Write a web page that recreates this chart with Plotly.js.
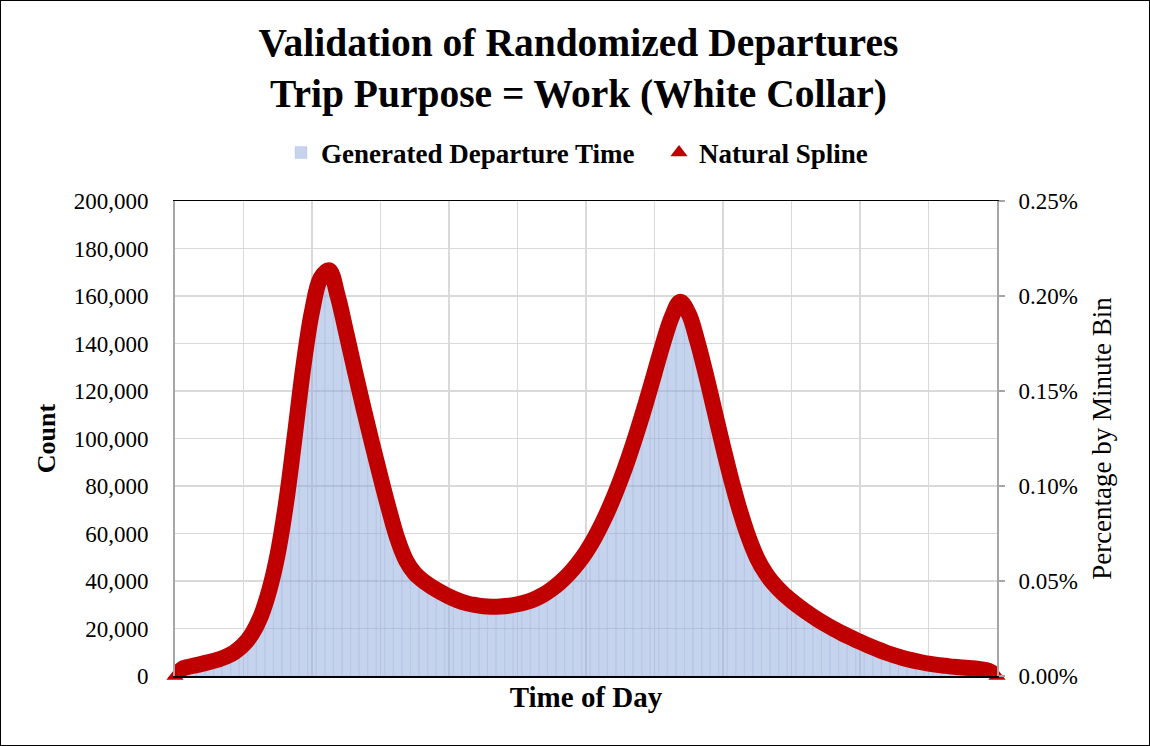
<!DOCTYPE html>
<html>
<head>
<meta charset="utf-8">
<script src="https://cdn.plot.ly/plotly-3.0.1.min.js"></script>
<style>
  html, body { margin: 0; padding: 0; background: #ffffff; }
  #wrap { position: relative; width: 1150px; height: 746px; }
  #chart { width: 1150px; height: 746px; }
  #frame { position: absolute; left: 0; top: 0; width: 1150px; height: 746px; box-sizing: border-box; border: 1.5px solid #000; pointer-events: none; }
</style>
</head>
<body>
<div id="wrap"><div id="chart"></div><div id="frame"></div></div>
<script>
// Minute of day (15-minute sampling of the 1,440 one-minute bins)
const minuteOfDay = [
  0, 15, 30, 45, 60, 75, 90, 105, 120, 135, 150, 165, 180, 195, 210, 225,
  240, 255, 270, 285, 300, 315, 330, 345, 360, 375, 390, 405, 420, 435, 450, 465,
  480, 495, 510, 525, 540, 555, 570, 585, 600, 615, 630, 645, 660, 675, 690, 705,
  720, 735, 750, 765, 780, 795, 810, 825, 840, 855, 870, 885, 900, 915, 930, 945,
  960, 975, 990, 1005, 1020, 1035, 1050, 1065, 1080, 1095, 1110, 1125, 1140, 1155, 1170, 1185,
  1200, 1215, 1230, 1245, 1260, 1275, 1290, 1305, 1320, 1335, 1350, 1365, 1380, 1395, 1410, 1425,
  1440
];
// Generated departure count per minute bin
const generatedCount = [
  0, 3300, 4200, 5000, 5900, 6900, 8200, 10200, 13200, 17800, 25000, 36000, 51500, 73500, 101500, 130500,
  153500, 167500, 170800, 160000, 144500, 128500, 113000, 98200, 83800, 70000, 57500, 48500, 43200, 40000, 37500, 35400,
  33500, 31900, 30700, 29900, 29400, 29200, 29300, 29600, 30200, 31100, 32400, 34200, 36600, 39500, 43000, 47200,
  52200, 58200, 65200, 73200, 82200, 92200, 103200, 115000, 127500, 140000, 151000, 157600, 152500, 141000, 127000, 111800,
  96600, 82200, 69300, 58300, 49500, 43200, 38500, 34800, 31700, 28900, 26300, 23900, 21700, 19700, 17800, 16100,
  14400, 12800, 11300, 9900, 8700, 7600, 6700, 5900, 5200, 4700, 4300, 3900, 3600, 3300, 2900, 2200,
  0
];
// Natural spline fitted to the same bins
const splineCount = generatedCount;
// Spline end points on the secondary (share) axis
const splineEndMinute = [0, 1440];
const splineEndShare = [0, 0];

const leftTicks = [0, 20000, 40000, 60000, 80000, 100000, 120000, 140000, 160000, 180000, 200000];
const rightTicks = [0, 0.0005, 0.001, 0.0015, 0.002, 0.0025];

const serif = '"Liberation Serif", "Times New Roman", Times, serif';
const red = '#c00000';

const traces = [
  {
    type: 'bar',
    name: 'Generated Departure Time',
    x: minuteOfDay,
    y: generatedCount,
    marker: { color: 'rgba(143,170,220,0.52)', line: { color: 'rgba(143,170,220,0.35)', width: 0.6 } },
    hoverinfo: 'x+y'
  },
  {
    type: 'scatter',
    mode: 'lines',
    name: 'Natural Spline',
    x: minuteOfDay,
    y: splineCount,
    line: { color: red, width: 16, shape: 'spline', smoothing: 1 },
    showlegend: false
  },
  {
    type: 'scatter',
    mode: 'markers',
    name: 'Natural Spline',
    x: splineEndMinute,
    y: splineEndShare,
    yaxis: 'y2',
    marker: { symbol: 'triangle-up', size: 15, color: red },
    cliponaxis: false
  }
];

const layout = {
  width: 1150,
  height: 746,
  paper_bgcolor: '#ffffff',
  plot_bgcolor: '#ffffff',
  margin: { l: 175, r: 153, t: 201, b: 70, pad: 0 },
  font: { family: serif, color: '#000000', size: 23 },
  bargap: 0,
  title: {
    text: 'Validation of Randomized Departures<br>Trip Purpose = Work (White Collar)',
    font: { family: serif, size: 39.5, weight: 'bold', color: '#000' },
    x: 0.503, xref: 'container', xanchor: 'center',
    y: 1 - 56 / 746, yref: 'container', yanchor: 'top'
  },
  showlegend: true,
  legend: {
    orientation: 'h',
    xref: 'container', yref: 'container',
    x: 281 / 1150, xanchor: 'left',
    y: 1 - 153 / 746, yanchor: 'middle',
    font: { family: serif, size: 27, weight: 'bold', color: '#000' },
    bgcolor: 'rgba(0,0,0,0)',
    itemwidth: 30,
    entrywidth: 333, entrywidthmode: 'pixels',
    traceorder: 'normal'
  },
  xaxis: {
    range: [0, 1440],
    dtick: 120, tick0: 0,
    showticklabels: false,
    ticks: '',
    showgrid: true, gridcolor: '#d9d9d9', gridwidth: 1.5,
    zeroline: false,
    showline: true, linecolor: '#000000', linewidth: 1.5, mirror: true,
    fixedrange: true,
    title: { text: 'Time of Day', font: { family: serif, size: 29, weight: 'bold' }, standoff: 10 }
  },
  yaxis: {
    range: [0, 200000],
    tickvals: leftTicks,
    tickformat: ',.0f',
    ticks: '',
    ticklabelstandoff: 20,
    showgrid: true, gridcolor: '#d9d9d9', gridwidth: 1.5,
    zeroline: false,
    showline: true, linecolor: '#a6a6a6', linewidth: 2,
    fixedrange: true,
    title: { text: 'Count', font: { family: serif, size: 26, weight: 'bold' }, standoff: 11 }
  },
  yaxis2: {
    overlaying: 'y',
    side: 'right',
    range: [0, 0.0025],
    tickvals: rightTicks,
    tickformat: '.2%',
    ticks: 'outside', ticklen: 6, tickcolor: '#a6a6a6', tickwidth: 1.5,
    ticklabelstandoff: 9,
    showgrid: false,
    zeroline: false,
    showline: true, linecolor: '#a6a6a6', linewidth: 2,
    fixedrange: true,
    title: { text: 'Percentage by Minute Bin', font: { family: serif, size: 27 }, standoff: 15 }
  }
};

Plotly.newPlot('chart', traces, layout, { displayModeBar: false, staticPlot: true });
</script>
</body>
</html>
